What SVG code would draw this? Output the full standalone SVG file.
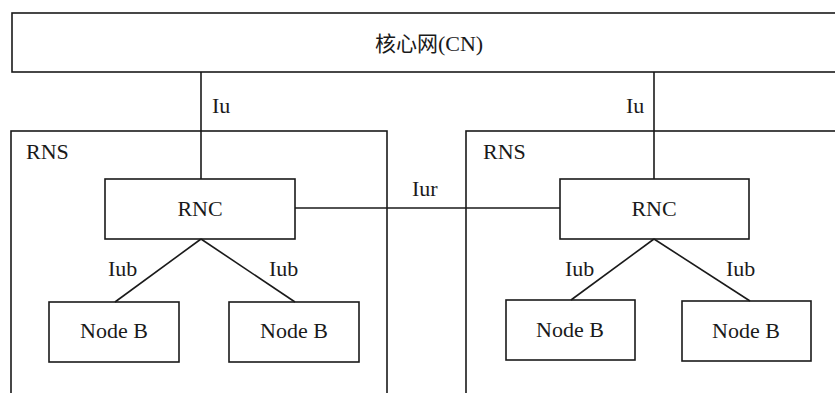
<svg xmlns="http://www.w3.org/2000/svg" width="835" height="393" viewBox="0 0 835 393">
<style>
.box{fill:none;stroke:#1a1a1a;stroke-width:1.6}
.ln{fill:none;stroke:#1a1a1a;stroke-width:1.6}
text{font-family:'Liberation Serif','Times New Roman',serif;font-size:22px;fill:#1a1a1a}
.cjk{font-family:'Noto Sans CJK SC','Noto Sans CJK JP',sans-serif;font-size:21px}
.c{text-anchor:middle}
</style>
<rect width="835" height="393" fill="#ffffff"/>
<g id="cn">
<rect class="box" x="12" y="13" width="840" height="59"/>
<text class="c" x="429" y="51"><tspan class="cjk">核心网</tspan>(CN)</text>
</g>
<g id="rns-left">
<rect class="box" x="11" y="131" width="376" height="280"/>
<text x="26" y="159">RNS</text>
</g>
<g id="rns-right">
<rect class="box" x="466" y="131" width="390" height="280"/>
<text x="483" y="159">RNS</text>
</g>
<g id="rnc-left">
<rect class="box" x="105" y="179" width="190" height="60"/>
<text class="c" x="200" y="216">RNC</text>
</g>
<g id="rnc-right">
<rect class="box" x="560" y="179" width="189" height="60"/>
<text class="c" x="654" y="216">RNC</text>
</g>
<g id="nodeb-1">
<rect class="box" x="49" y="302" width="130" height="60"/>
<text class="c" x="114" y="338">Node B</text>
</g>
<g id="nodeb-2">
<rect class="box" x="229" y="302" width="130" height="60"/>
<text class="c" x="294" y="338">Node B</text>
</g>
<g id="nodeb-3">
<rect class="box" x="506" y="300" width="129" height="60"/>
<text class="c" x="570" y="337">Node B</text>
</g>
<g id="nodeb-4">
<rect class="box" x="682" y="301" width="129" height="60"/>
<text class="c" x="746" y="338">Node B</text>
</g>
<g id="connectors">
<line class="ln" x1="201" y1="72" x2="201" y2="179"/>
<line class="ln" x1="654" y1="72" x2="654" y2="179"/>
<line class="ln" x1="295" y1="208" x2="560" y2="208"/>
<line class="ln" x1="201" y1="239" x2="115" y2="302"/>
<line class="ln" x1="201" y1="239" x2="295" y2="302"/>
<line class="ln" x1="654" y1="239" x2="571" y2="300"/>
<line class="ln" x1="654" y1="239" x2="750" y2="301"/>
<text x="212" y="113">Iu</text>
<text x="626" y="113">Iu</text>
<text x="412" y="196">Iur</text>
<text x="108" y="276">Iub</text>
<text x="269" y="276">Iub</text>
<text x="565" y="276">Iub</text>
<text x="726" y="276">Iub</text>
</g>
</svg>
